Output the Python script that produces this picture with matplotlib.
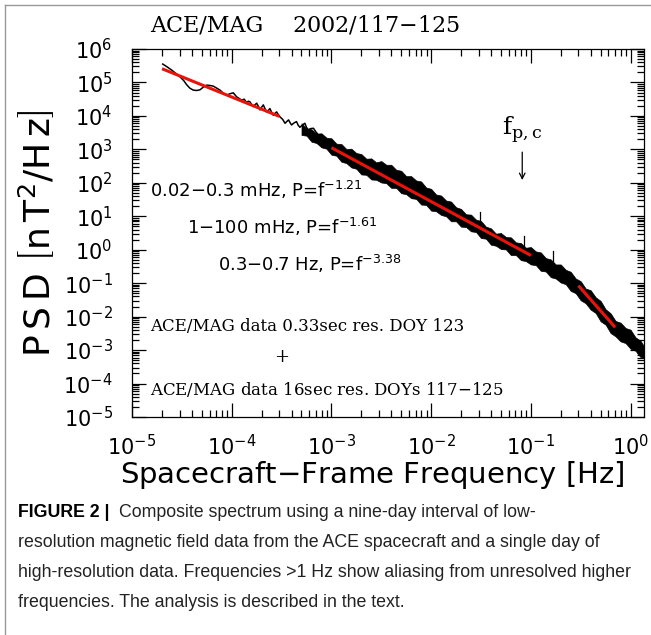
import numpy as np
import matplotlib.pyplot as plt
from matplotlib.lines import Line2D
from matplotlib.ticker import LogLocator, NullFormatter

# ---- data (log10 values) ----
# 16 sec resolution spectrum, DOYs 117-125
lowres_logf = [-4.692, -4.65, -4.602, -4.56, -4.519, -4.48, -4.451, -4.42, -4.385, -4.35,
               -4.318, -4.285, -4.251, -4.22, -4.185, -4.15, -4.117, -4.085, -4.05, -4.02,
               -3.984, -3.965, -3.95, -3.925, -3.90, -3.875, -3.85, -3.833, -3.817, -3.80,
               -3.784, -3.767, -3.75, -3.733, -3.716, -3.70, -3.683, -3.667, -3.65, -3.633,
               -3.617, -3.60, -3.583, -3.567, -3.55, -3.533, -3.516, -3.49, -3.465, -3.445,
               -3.43, -3.415, -3.40, -3.375, -3.35, -3.333, -3.316, -3.29, -3.266, -3.25,
               -3.233, -3.21, -3.18, -3.155, -3.13, -3.105, -3.08, -3.045, -3.01, -2.98,
               -2.95, -2.90, -2.85]
lowres_logp = [5.55, 5.47, 5.37, 5.27, 5.17, 5.05, 4.93, 4.83, 4.77, 4.76,
               4.78, 4.86, 4.92, 4.91, 4.89, 4.83, 4.77, 4.68, 4.62, 4.66,
               4.69, 4.62, 4.57, 4.52, 4.47, 4.50, 4.40, 4.44, 4.42, 4.34,
               4.28, 4.33, 4.38, 4.29, 4.18, 4.26, 4.33, 4.22, 4.12, 4.16,
               4.22, 4.11, 4.02, 4.07, 4.12, 4.04, 3.97, 3.90, 3.78, 3.84,
               3.88, 3.80, 3.73, 3.79, 3.83, 3.72, 3.66, 3.73, 3.78, 3.66,
               3.58, 3.62, 3.63, 3.52, 3.43, 3.36, 3.28, 3.22, 3.18, 3.12,
               3.08, 3.02, 2.96]

# 0.33 sec resolution spectrum, DOY 123: upper / lower edge of the dense band
band_logf = [-3.30, -3.25, -3.20, -3.15, -3.10, -3.05, -3.00, -2.95, -2.90, -2.85,
             -2.80, -2.75, -2.70, -2.65, -2.60, -2.55, -2.50, -2.45, -2.40, -2.35,
             -2.30, -2.25, -2.20, -2.15, -2.10, -2.05, -2.00, -1.95, -1.90, -1.85,
             -1.80, -1.75, -1.70, -1.65, -1.60, -1.55, -1.50, -1.45, -1.40, -1.35,
             -1.30, -1.25, -1.20, -1.15, -1.10, -1.05, -1.00, -0.95, -0.90, -0.85,
             -0.80, -0.75, -0.70, -0.65, -0.60, -0.55, -0.50, -0.45, -0.40, -0.35,
             -0.30, -0.25, -0.20, -0.15, -0.10, -0.05, 0.00, 0.05, 0.10, 0.14]
band_hi = [3.78, 3.63, 3.60, 3.47, 3.48, 3.35, 3.33, 3.17, 3.16, 3.01,
           3.02, 2.89, 2.86, 2.72, 2.73, 2.61, 2.65, 2.54, 2.54, 2.39,
           2.36, 2.20, 2.20, 2.07, 2.04, 1.86, 1.82, 1.65, 1.62, 1.47,
           1.44, 1.27, 1.22, 1.06, 1.05, 0.90, 0.86, 0.69, 0.64, 0.48,
           0.50, 0.38, 0.37, 0.22, 0.20, 0.06, 0.08, -0.05, -0.08, -0.25,
           -0.29, -0.44, -0.44, -0.60, -0.66, -0.86, -0.94, -1.16, -1.21, -1.42,
           -1.53, -1.78, -1.90, -2.13, -2.18, -2.34, -2.39, -2.62, -2.72, -2.91]
band_lo = [3.43, 3.41, 3.23, 3.19, 3.06, 3.02, 2.84, 2.81, 2.63, 2.59,
           2.46, 2.42, 2.25, 2.24, 2.10, 2.09, 2.01, 1.99, 1.85, 1.85,
           1.69, 1.66, 1.54, 1.52, 1.35, 1.34, 1.17, 1.15, 1.04, 1.00,
           0.85, 0.85, 0.69, 0.68, 0.55, 0.53, 0.35, 0.33, 0.15, 0.12,
           0.02, 0.01, -0.16, -0.16, -0.31, -0.34, -0.44, -0.46, -0.63, -0.65,
           -0.82, -0.86, -0.98, -1.03, -1.23, -1.30, -1.51, -1.60, -1.79, -1.89,
           -2.14, -2.24, -2.49, -2.59, -2.74, -2.79, -2.96, -3.02, -3.21, -3.23]
spike_logf = [-1.51, -1.07, -0.78]
spike_logp = [1.14, 0.41, -0.03]

# power-law fits (start/end frequency in Hz, PSD at those ends)
fit_f = [[2e-5, 3e-4], [1e-3, 0.1], [0.3, 0.7]]
fit_p = [[2.57e5, 9.7e3], [1.12e3, 0.676], [8.4e-2, 4.8e-3]]
fit_labels = ['0.02$-$0.3 mHz, P=f$^{-1.21}$',
              '1$-$100 mHz, P=f$^{-1.61}$',
              '0.3$-$0.7 Hz, P=f$^{-3.38}$']

caption = ["Composite spectrum using a nine-day interval of low-",
           "resolution magnetic field data from the ACE spacecraft and a single day of",
           "high-resolution data. Frequencies >1 Hz show aliasing from unresolved higher",
           "frequencies. The analysis is described in the text."]

W, H = 651, 635
fig = plt.figure(figsize=(W / 100, H / 100), dpi=100)
ax = fig.add_axes([132 / W, 1 - 417 / H, 512 / W, 368 / H])

lf = 10 ** np.array(band_logf)
ax.fill_between(lf, 10 ** np.array(band_lo), 10 ** np.array(band_hi),
                facecolor='black', lw=0.5, edgecolor='black')
for sf, sp in zip(spike_logf, spike_logp):
    ax.plot([10 ** sf, 10 ** sf], [10 ** (sp - 0.4), 10 ** sp], color='black', lw=0.9)
ax.plot(10 ** np.array(lowres_logf), 10 ** np.array(lowres_logp), color='black', lw=1.1)
for ff, pp in zip(fit_f, fit_p):
    ax.plot(ff, pp, color='#e8140c', lw=2.2, solid_capstyle='butt')

ax.set_xscale('log')
ax.set_yscale('log')
ax.set_xlim(1e-5, 10 ** 0.135)
ax.set_ylim(1e-5, 1e6)

ax.xaxis.set_major_locator(LogLocator(base=10, numticks=20))
ax.yaxis.set_major_locator(LogLocator(base=10, numticks=20))
ax.xaxis.set_minor_locator(LogLocator(base=10, subs=np.arange(2, 10), numticks=100))
ax.yaxis.set_minor_locator(LogLocator(base=10, subs=np.arange(2, 10), numticks=100))
ax.xaxis.set_minor_formatter(NullFormatter())
ax.yaxis.set_minor_formatter(NullFormatter())
ax.tick_params(which='both', direction='in', top=True, right=True, width=0.9)
ax.tick_params(which='major', length=10, labelsize=15)
ax.tick_params(which='minor', length=5)
ax.tick_params(axis='x', which='major', pad=12)
ax.tick_params(axis='y', which='major', pad=14)
for s in ax.spines.values():
    s.set_linewidth(0.9)

ax.set_xlabel(r'Spacecraft$-$Frame Frequency $\left[\mathrm{Hz}\right]$', fontsize=21)
ax.xaxis.set_label_coords(0.47, -0.115)
ax.set_ylabel(r'$\mathrm{P\,S\,D}\ \left[\mathrm{n\,T}^{2}/\mathrm{H\,z}\right]$', fontsize=26)
ax.yaxis.set_label_coords(-0.145, 0.5)

# titles and labels inside the plot (serif, as in the IDL original)
fig.text(150 / W, 1 - 31 / H, 'ACE/MAG', family='DejaVu Serif', fontsize=16, va='baseline')
fig.text(292 / W, 1 - 31 / H, '2002/117$-$125', family='DejaVu Serif', fontsize=16, va='baseline')

xs = [150, 187, 218]
ys = [197, 234, 271]
for x, y, t in zip(xs, ys, fit_labels):
    fig.text(x / W, 1 - y / H, t, fontsize=13, va='baseline')

fig.text(150 / W, 1 - 331 / H, 'ACE/MAG data 0.33sec res. DOY 123',
         family='DejaVu Serif', fontsize=12, va='baseline')
fig.text(282 / W, 1 - 357 / H, '+', family='DejaVu Serif', fontsize=13, ha='center', va='center')
fig.text(150 / W, 1 - 395 / H, 'ACE/MAG data 16sec res. DOYs 117$-$125',
         family='DejaVu Serif', fontsize=12, va='baseline')

ax.text(0.082, 10 ** 3.45, r'f$_{\mathregular{p,c}}$', family='DejaVu Serif', fontsize=18,
        ha='center', va='baseline')
ax.annotate('', xy=(0.082, 1e2), xytext=(0.082, 1e3),
            arrowprops=dict(arrowstyle='->', color='black', lw=0.9))

# caption
fig.text(18 / W, 1 - 517 / H, 'FIGURE 2 |', family='Liberation Sans', weight='bold',
         fontsize=12.8, va='baseline')
for i, line in enumerate(caption):
    x0 = 119 if i == 0 else 18
    fig.text(x0 / W, 1 - (517 + 30 * i) / H, line, family='Liberation Sans',
             fontsize=12.8, va='baseline', color='#222222')

# outer frame
fig.add_artist(Line2D([5 / W, 5 / W], [0, 1 - 5 / H], color='#999999', lw=1))
fig.add_artist(Line2D([5 / W, 1], [1 - 5 / H, 1 - 5 / H], color='#999999', lw=1))

fig.savefig('out.png', dpi=100)
